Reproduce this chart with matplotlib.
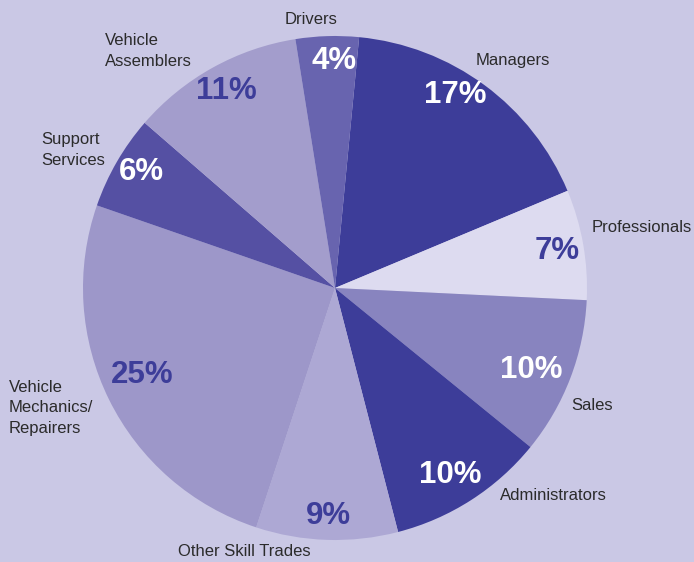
import matplotlib
matplotlib.use("Agg")
import matplotlib.pyplot as plt

# ---- data ----
categories = ["Managers", "Professionals", "Sales", "Administrators",
              "Other Skill Trades", "Vehicle\nMechanics/\nRepairers",
              "Support\nServices", "Vehicle\nAssemblers", "Drivers"]
shares = [17, 7, 10, 10, 9, 25, 6, 11, 4]
pct_labels = ["17%", "7%", "10%", "10%", "9%", "25%", "6%", "11%", "4%"]

# ---- styles ----
bg = "#CAC8E5"
colors = ["#3D3D99", "#DDDBF0", "#8884BF", "#3D3D99", "#ADA8D4",
          "#9D97C9", "#5550A3", "#A39DCC", "#6864AF"]
pct_colors = ["white", "#3D3D99", "white", "white", "#3D3D99",
              "#3D3D99", "white", "#3D3D99", "white"]

# label positions in pie units (radius = 1), centre at (0, 0)
R_PX, CX, CY = 252.0, 335.0, 288.0
def px(x, y):
    return ((x - CX) / R_PX, (CY - y) / R_PX)

pct_pos = [px(455, 95), px(557, 251), px(531, 370), px(450, 475),
           px(328, 516), px(142, 375), px(141, 172), px(226, 91), px(334, 61)]
cat_pos = [px(513, 61), px(642, 228), px(592, 406), px(553, 495),
           px(244, 552), px(9, 408), px(41, 150), px(105, 51), px(311, 19)]
cat_ha = ["center", "center", "center", "center", "center",
          "left", "left", "left", "center"]

fig = plt.figure(figsize=(6.94, 5.62), dpi=100, facecolor=bg)
ax = fig.add_axes([0, 0, 1, 1])
ax.set_facecolor(bg)

wedges, _ = ax.pie(shares, colors=colors, startangle=84.5, counterclock=False,
                   radius=1.0, wedgeprops=dict(linewidth=0))

for (x, y), t, c in zip(pct_pos, pct_labels, pct_colors):
    ax.text(x, y, t, ha="center", va="center", color=c, fontsize=22.5,
            fontweight="bold",
            family=["Liberation Sans Narrow", "Liberation Sans", "DejaVu Sans"])

for (x, y), t, ha in zip(cat_pos, categories, cat_ha):
    ax.text(x, y, t, ha=ha, va="center", color="#2B2B2B", fontsize=12,
            linespacing=1.5,
            family=["Liberation Sans", "DejaVu Sans"])

ax.set_xlim(-CX / R_PX, (694 - CX) / R_PX)
ax.set_ylim(-(562 - CY) / R_PX, CY / R_PX)
ax.set_aspect("auto")
ax.axis("off")

fig.savefig("out.png", dpi=100, facecolor=bg)
